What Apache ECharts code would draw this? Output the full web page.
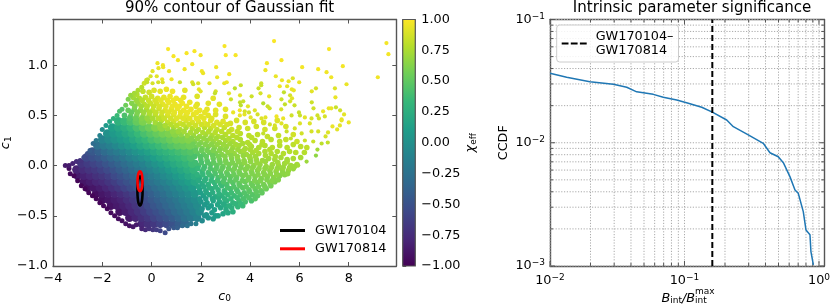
<!DOCTYPE html>
<html><head><meta charset="utf-8">
<style>html,body{margin:0;padding:0;background:#fff}#c{width:831px;height:304px}</style>
<script src="https://cdn.jsdelivr.net/npm/echarts@6/dist/echarts.min.js"></script>
</head><body><div id="c"></div>
<script>
// [c0, c1, chi_eff]
const coreSamples = [
[-.4,-.58,-.78],[-.15,-.58,-.72],[.1,-.58,-.67],[.35,-.58,-.6],[.6,-.58,-.55],[.85,-.58,-.49],[1.1,-.58,-.41],[1.35,-.57,-.33],
[-.9,-.52,-.85],[-.65,-.52,-.79],[-.4,-.52,-.72],[-.15,-.52,-.66],[.1,-.52,-.59],[.35,-.52,-.53],[.6,-.52,-.47],[.85,-.52,-.41],[1.1,-.52,-.34],[1.35,-.52,-.26],[1.6,-.52,-.2],[1.85,-.52,-.12],
[-1.3,-.46,-.9],[-1.05,-.46,-.84],[-.8,-.46,-.78],[-.55,-.46,-.71],[-.3,-.46,-.64],[-.05,-.46,-.57],[.2,-.46,-.51],[.45,-.46,-.45],[.7,-.46,-.38],[.95,-.46,-.32],[1.2,-.46,-.26],[1.45,-.46,-.19],[1.7,-.46,-.12],[1.95,-.46,-.04],
[-1.65,-.4,-.9],[-1.4,-.4,-.86],[-1.15,-.4,-.82],[-.9,-.4,-.77],[-.65,-.4,-.7],[-.4,-.4,-.62],[-.15,-.4,-.54],[.1,-.4,-.47],[.35,-.4,-.41],[.6,-.4,-.35],[.85,-.4,-.29],[1.1,-.4,-.22],[1.35,-.4,-.16],[1.6,-.4,-.1],[1.85,-.4,-.04],
[-2,-.34,-.92],[-1.75,-.34,-.88],[-1.5,-.34,-.84],[-1.25,-.34,-.8],[-1,-.34,-.74],[-.75,-.34,-.68],[-.5,-.34,-.6],[-.25,-.34,-.53],[0,-.34,-.45],[.25,-.34,-.39],[.5,-.34,-.33],[.75,-.34,-.27],[1,-.34,-.21],[1.25,-.34,-.14],[1.5,-.34,-.08],[1.75,-.34,-.02],
[-2.25,-.28,-.93],[-2,-.28,-.88],[-1.75,-.28,-.84],[-1.5,-.28,-.79],[-1.25,-.28,-.74],[-1,-.28,-.68],[-.75,-.28,-.62],[-.5,-.28,-.54],[-.25,-.28,-.47],[0,-.28,-.4],[.25,-.28,-.33],[.5,-.28,-.27],[.75,-.28,-.2],[1,-.28,-.14],[1.25,-.28,-.08],[1.5,-.28,-.02],[1.75,-.28,.05],
[-2.6,-.22,-.92],[-2.35,-.22,-.88],[-2.1,-.22,-.84],[-1.85,-.22,-.79],[-1.6,-.22,-.73],[-1.35,-.22,-.67],[-1.1,-.22,-.6],[-.85,-.22,-.54],[-.6,-.22,-.48],[-.35,-.22,-.42],[-.1,-.22,-.36],[.15,-.22,-.29],[.4,-.22,-.23],[.65,-.22,-.17],[.9,-.22,-.1],[1.15,-.22,-.04],[1.4,-.22,.02],[1.65,-.22,.08],
[-2.75,-.16,-.88],[-2.5,-.16,-.84],[-2.25,-.16,-.79],[-2,-.16,-.75],[-1.75,-.16,-.69],[-1.5,-.16,-.63],[-1.25,-.16,-.56],[-1,-.16,-.5],[-.75,-.16,-.44],[-.5,-.16,-.38],[-.25,-.16,-.31],[0,-.16,-.25],[.25,-.16,-.19],[.5,-.16,-.13],[.75,-.16,-.06],[1,-.16,0],[1.25,-.16,.06],[1.5,-.16,.12],[1.75,-.16,.18],
[-3,-.1,-.86],[-2.75,-.1,-.81],[-2.5,-.1,-.77],[-2.25,-.1,-.72],[-2,-.1,-.68],[-1.75,-.1,-.62],[-1.5,-.1,-.55],[-1.25,-.1,-.49],[-1,-.1,-.43],[-.75,-.1,-.37],[-.5,-.1,-.3],[-.25,-.1,-.24],[0,-.1,-.18],[.25,-.1,-.12],[.5,-.1,-.05],[.75,-.1,.01],[1,-.1,.07],[1.25,-.1,.13],[1.5,-.1,.19],[1.75,-.1,.24],
[-3.05,-.04,-.8],[-2.8,-.04,-.75],[-2.55,-.04,-.7],[-2.3,-.04,-.66],[-2.05,-.04,-.61],[-1.8,-.04,-.55],[-1.55,-.04,-.49],[-1.3,-.04,-.42],[-1.05,-.04,-.36],[-.8,-.04,-.3],[-.55,-.04,-.24],[-.3,-.04,-.17],[-.05,-.04,-.11],[.2,-.04,-.05],[.45,-.04,.01],[.7,-.04,.08],[.95,-.04,.14],[1.2,-.04,.19],[1.45,-.04,.25],[1.7,-.04,.31],
[-2.85,.02,-.69],[-2.6,.02,-.64],[-2.35,.02,-.59],[-2.1,.02,-.54],[-1.85,.02,-.48],[-1.6,.02,-.42],[-1.35,.02,-.36],[-1.1,.02,-.29],[-.85,.02,-.23],[-.6,.02,-.17],[-.35,.02,-.11],[-.1,.02,-.04],[.15,.02,.02],[.4,.02,.08],[.65,.02,.15],[.9,.02,.21],[1.15,.02,.26],[1.4,.02,.31],[1.65,.02,.37],
[-2.65,.08,-.56],[-2.4,.08,-.51],[-2.15,.08,-.46],[-1.9,.08,-.4],[-1.65,.08,-.33],[-1.4,.08,-.27],[-1.15,.08,-.21],[-.9,.08,-.14],[-.65,.08,-.08],[-.4,.08,-.02],[-.15,.08,.04],[.1,.08,.11],[.35,.08,.17],[.6,.08,.23],[.85,.08,.28],[1.1,.08,.32],[1.35,.08,.37],[1.6,.08,.41],
[-2.4,.14,-.45],[-2.15,.14,-.38],[-1.9,.14,-.3],[-1.65,.14,-.23],[-1.4,.14,-.17],[-1.15,.14,-.11],[-.9,.14,-.05],[-.65,.14,.02],[-.4,.14,.08],[-.15,.14,.14],[.1,.14,.2],[.35,.14,.26],[.6,.14,.31],[.85,.14,.35],[1.1,.14,.39],[1.35,.14,.43],[1.6,.14,.46],
[-2.2,.2,-.26],[-1.95,.2,-.19],[-1.7,.2,-.13],[-1.45,.2,-.06],[-1.2,.2,0],[-.95,.2,.06],[-.7,.2,.12],[-.45,.2,.19],[-.2,.2,.25],[.05,.2,.31],[.3,.2,.36],[.55,.2,.41],[.8,.2,.46],[1.05,.2,.5],[1.3,.2,.53],[1.55,.2,.56],
[-2,.26,-.1],[-1.75,.26,-.04],[-1.5,.26,.02],[-1.25,.26,.08],[-1,.26,.13],[-.75,.26,.2],[-.5,.26,.27],[-.25,.26,.33],[0,.26,.4],[.25,.26,.45],[.5,.26,.49],[.75,.26,.54],[1,.26,.58],[1.25,.26,.6],[1.5,.26,.62],
[-1.8,.32,.01],[-1.55,.32,.07],[-1.3,.32,.13],[-1.05,.32,.19],[-.8,.32,.26],[-.55,.32,.34],[-.3,.32,.41],[-.05,.32,.47],[.2,.32,.52],[.45,.32,.57],[.7,.32,.6],[.95,.32,.64],
[-1.6,.38,.12],[-1.35,.38,.18],[-1.1,.38,.24],[-.85,.38,.32],[-.6,.38,.41],[-.35,.38,.49],[-.1,.38,.55],[.15,.38,.62],[.4,.38,.67],
[-1.35,.44,.28],[-1.1,.44,.35],[-.85,.44,.42],[-.6,.44,.52],[-.35,.44,.6]
];
const edgeSamples = [
[-3.5,0,-.85],[-3.35,-.03,-.93],[-3.3,-.08,-.95],[-3.15,-.1,-.97],[-3,-.15,-.98],[-2.85,-.2,-.98],[-2.7,-.23,-.98],[-2.55,-.27,-.97],[-2.4,-.3,-.98],[-2.25,-.33,-.97],[-2.1,-.37,-.97],[-1.95,-.4,-.96],[-1.8,-.43,-.96],[-1.65,-.47,-.95],[-1.5,-.5,-.95],[-1.35,-.53,-.93],[-1.2,-.55,-.92],[-1.05,-.58,-.9],[-.9,-.6,-.9],[-.75,-.61,-.88],[-.62,-.59,-.86],[-.4,-.63,-.8],[-.25,-.64,-.76],[-.1,-.63,-.72],[.05,-.64,-.68],[.2,-.64,-.64],[.35,-.65,-.6],[.55,-.67,-.55],[.7,-.63,-.5],[.9,-.62,-.45],[1.05,-.62,-.4],[1.25,-.6,-.32],[1.45,-.6,-.26],[1.6,-.58,-.22],[1.8,-.58,-.14],
[-3.35,0,-.85],[-3.2,.02,-.8],[-3.05,.04,-.75],[-2.9,.05,-.7],[-2.75,.08,-.55],[-2.6,.12,-.5],[-2.5,.15,-.42],[-2.37,.22,-.3],[-2.25,.25,-.2],[-2.1,.3,-.1],[-2,.36,-.02],[-1.85,.4,.08],[-1.7,.44,.18],[-1.55,.47,.28],[-1.4,.5,.35],[-1.3,.54,.42],[-1.2,.56,.45],[-1.05,.6,.55],[-.95,.66,.6],[-.85,.7,.68],[-.7,.72,.72],[-.55,.75,.75],[-.4,.78,.78],[-.3,.82,.85],[-.2,.85,.85]
];
const bodySamples = [
[2.05,-.55,-.05],[2.3,-.52,.02],[2.5,-.53,.06],[2.15,-.5,0],[2.45,-.47,.08],[2.7,-.5,.12],[2.9,-.48,.16],[3.1,-.47,.2],[3.3,-.46,.25],
[2.05,-.43,.02],[2.3,-.42,.08],[2.55,-.44,.13],[2.8,-.42,.18],[3,-.4,.24],[3.25,-.42,.28],[3.5,-.41,.32],[3.7,-.4,.36],
[2,-.36,.05],[2.25,-.37,.1],[2.5,-.35,.16],[2.75,-.36,.2],[3.05,-.35,.27],[3.3,-.37,.3],[3.55,-.35,.36],[3.8,-.36,.4],[4.05,-.35,.42],
[2.1,-.3,.12],[2.35,-.29,.18],[2.6,-.31,.22],[2.85,-.3,.27],[3.1,-.29,.32],[3.35,-.3,.36],[3.6,-.29,.4],[3.85,-.3,.44],[4.1,-.29,.46],[4.3,-.3,.48],
[1.95,-.24,.14],[2.2,-.25,.2],[2.45,-.23,.25],[2.7,-.24,.3],[2.95,-.25,.35],[3.2,-.23,.41],[3.45,-.24,.44],[3.7,-.22,.48],[3.95,-.24,.51],[4.2,-.23,.53],[4.45,-.25,.54],[4.65,-.23,.55],
[2.05,-.18,.21],[2.3,-.19,.27],[2.55,-.17,.32],[2.8,-.18,.37],[3.05,-.19,.42],[3.3,-.17,.46],[3.55,-.18,.5],[3.8,-.16,.53],[4.05,-.18,.55],[4.3,-.17,.57],[4.55,-.19,.58],[4.8,-.17,.6],[5,-.16,.6],
[1.95,-.12,.25],[2.2,-.13,.3],[2.45,-.11,.36],[2.7,-.12,.42],[2.95,-.13,.46],[3.2,-.11,.5],[3.45,-.12,.53],[3.7,-.1,.57],[3.95,-.12,.59],[4.2,-.11,.6],[4.45,-.13,.61],[4.7,-.11,.62],[4.95,-.12,.63],[5.2,-.1,.63],[5.4,-.09,.64],
[2.05,-.06,.34],[2.3,-.07,.39],[2.55,-.05,.44],[2.8,-.06,.49],[3.05,-.07,.53],[3.3,-.05,.56],[3.55,-.06,.58],[3.8,-.04,.61],[4.05,-.06,.62],[4.3,-.05,.63],[4.55,-.07,.64],[4.8,-.05,.65],[5.05,-.06,.66],[5.3,-.04,.67],[5.55,-.05,.68],[5.75,-.03,.68],
[1.9,0,.38],[2.15,-.01,.42],[2.4,.01,.46],[2.65,0,.5],[2.9,-.01,.54],[3.15,.01,.57],[3.4,0,.59],[3.65,.01,.62],[3.9,-.01,.64],[4.15,0,.66],[4.4,.01,.67],[4.65,-.01,.68],[4.9,.01,.7],[5.15,0,.7],[5.4,.02,.71],[5.65,0,.71],[5.9,.01,.72],
[2,.06,.45],[2.25,.05,.49],[2.5,.07,.53],[2.75,.06,.57],[3,.05,.6],[3.25,.07,.62],[3.5,.06,.64],[3.75,.05,.66],[4,.07,.68],[4.25,.06,.69],[4.5,.05,.7],[4.75,.07,.71],[5,.06,.72],[5.25,.08,.73],[5.5,.06,.73],[5.75,.07,.74],[6.05,.08,.74],
[1.85,.12,.48],[2.1,.11,.51],[2.35,.13,.55],[2.6,.12,.59],[2.85,.11,.63],[3.1,.13,.66],[3.35,.12,.68],[3.6,.14,.7],[3.85,.11,.71],[4.1,.13,.73],[4.35,.12,.74],[4.6,.14,.75],[4.85,.12,.76],[5.1,.14,.76],[5.35,.12,.77],[5.6,.14,.77],[5.85,.13,.78],[6.2,.13,.78],
[1.8,.18,.55],[2.05,.17,.57],[2.3,.19,.6],[2.55,.18,.63],[2.8,.17,.66],[3.05,.19,.68],[3.3,.18,.7],[3.55,.2,.72],[3.8,.17,.74],[4.05,.19,.75],[4.35,.18,.76],[4.6,.2,.77],[4.9,.18,.78],[5.2,.2,.78],[5.5,.18,.79],[5.75,.21,.8],[6.05,.19,.8],[6.3,.18,.81],
[1.75,.24,.6],[2,.23,.63],[2.25,.25,.65],[2.5,.24,.67],[2.75,.23,.7],[3,.25,.72],[3.3,.24,.74],[3.6,.26,.76],[3.9,.23,.77],[4.2,.25,.78],[4.5,.24,.79],[4.85,.26,.8],[5.2,.24,.8],[5.45,.26,.82],[5.9,.24,.84],
[1.2,.31,.66],[1.45,.3,.68],[1.7,.3,.69],[1.95,.29,.7],[2.2,.31,.72],[2.45,.3,.74],[2.7,.29,.76],[3,.31,.78],[3.3,.3,.79],[3.6,.32,.8],[3.95,.3,.8],[4.3,.31,.81],[4.7,.29,.82],[5.15,.3,.82],[5.75,.31,.86],
[.65,.37,.7],[.9,.38,.73],[1.15,.36,.75],[1.4,.38,.76],[1.65,.37,.78],[1.9,.36,.78],[2.15,.38,.8],[2.4,.37,.82],[2.65,.36,.82],[2.95,.38,.84],[3.25,.36,.85],[3.55,.38,.85],[3.9,.37,.85],[4.25,.39,.86],[4.6,.36,.86],[5,.37,.86],[5.45,.39,.88],
[-.1,.44,.66],[.15,.43,.72],[.4,.45,.78],[.65,.43,.82],[.9,.44,.85],[1.15,.42,.86],[1.4,.45,.88],[1.65,.43,.88],[1.9,.44,.9],[2.15,.42,.9],[2.4,.45,.9],[2.65,.43,.9],[2.9,.44,.9],[3.2,.42,.88],[3.45,.45,.88],[3.8,.43,.88],[4.15,.44,.88],[4.55,.43,.88],[5.1,.45,.9],
[-1.1,.5,.42],[-.85,.49,.5],[-.6,.5,.6],[-.35,.49,.66],[-.1,.5,.74],[.15,.51,.8],[.4,.49,.84],[.65,.5,.88],[.9,.51,.9],[1.15,.49,.92],[1.4,.5,.92],[1.7,.51,.93],[2,.49,.92],[2.3,.5,.92],[2.6,.51,.9],[3,.49,.9],
[-.95,.55,.52],[-.7,.56,.58],[-.45,.55,.68],[-.2,.56,.74],[.05,.55,.82],[.3,.57,.86],[.55,.55,.9],[.8,.56,.92],[1.05,.57,.94],[1.3,.55,.94],[1.6,.56,.95],[1.95,.55,.94],[2.25,.56,.93],[2.6,.55,.92],[3,.56,.92],
[-.8,.62,.62],[-.55,.62,.7],[-.3,.61,.78],[-.05,.62,.84],[.2,.62,.88],[.45,.61,.92],[.7,.63,.94],[.95,.61,.95],[1.25,.62,.96],[1.55,.63,.94],[1.85,.61,.92],[2.3,.62,.92],[2.75,.61,.92],
[-.75,.68,.72],[-.5,.67,.76],[-.25,.68,.82],[0,.69,.86],[.25,.67,.9],[.5,.68,.93],[.75,.69,.95],[1,.67,.95],[1.3,.68,.93],[1.85,.69,.9],[2.5,.67,.92],
[-.6,.71,.76],[-.35,.74,.82],[-.1,.73,.86],[.1,.75,.9],[.35,.74,.92],[.6,.76,.95],[.85,.74,.96],[1.35,.75,.92]
];
const fillSamples = [
[2.22,-.49,.02],[2.6,-.5,.1],[3.02,-.44,.21],
[2.15,-.39,.06],[2.42,-.4,.11],[2.68,-.39,.17],[2.92,-.38,.21],[3.15,-.4,.26],[3.4,-.38,.31],[3.62,-.38,.35],
[1.95,-.33,.05],[2.2,-.33,.12],[2.47,-.33,.18],[2.72,-.32,.23],[2.96,-.33,.28],[3.22,-.33,.33],[3.47,-.32,.37],[3.72,-.33,.42],[3.95,-.32,.45],[4.2,-.33,.47],
[1.98,-.27,.12],[2.22,-.27,.18],[2.48,-.27,.23],[2.74,-.28,.27],[2.98,-.27,.32],[3.24,-.27,.37],[3.5,-.26,.41],[3.76,-.27,.45],[3.98,-.26,.48],[4.25,-.26,.5],[4.48,-.27,.51],
[1.9,-.21,.17],[2.12,-.21,.21],[2.35,-.22,.26],[2.6,-.21,.31],[2.85,-.2,.36],[3.08,-.22,.41],[3.34,-.21,.45],[3.58,-.2,.49],[3.84,-.21,.51],[4.1,-.2,.54],[4.34,-.21,.55],[4.6,-.21,.57],[4.84,-.2,.58],
[1.9,-.15,.22],[2.15,-.15,.27],[2.42,-.15,.33],[2.68,-.15,.39],[2.92,-.16,.44],[3.18,-.15,.48],[3.42,-.14,.51],[3.68,-.15,.54],[3.92,-.14,.57],[4.18,-.15,.59],[4.42,-.15,.6],[4.68,-.14,.61],[4.9,-.15,.62],[5.14,-.14,.62],
[1.85,-.09,.28],[2.08,-.09,.33],[2.34,-.09,.38],[2.58,-.08,.43],[2.84,-.1,.47],[3.08,-.09,.5],[3.34,-.09,.54],[3.58,-.08,.57],[3.82,-.09,.59],[4.08,-.08,.61],[4.32,-.09,.62],[4.58,-.09,.63],[4.82,-.08,.64],[5.08,-.09,.65],[5.32,-.07,.65],[5.52,-.08,.66],
[1.88,-.03,.34],[2.12,-.03,.39],[2.38,-.03,.44],[2.62,-.03,.48],[2.86,-.03,.52],[3.12,-.03,.55],[3.36,-.03,.58],[3.62,-.02,.6],[3.86,-.03,.62],[4.1,-.02,.64],[4.36,-.03,.65],[4.6,-.03,.66],[4.86,-.02,.68],[5.1,-.03,.68],[5.34,-.02,.69],[5.6,-.02,.7],[5.8,-.01,.7],
[1.78,.03,.38],[2.02,.03,.42],[2.28,.03,.46],[2.52,.03,.5],[2.78,.03,.54],[3.02,.03,.58],[3.28,.03,.6],[3.52,.04,.62],[3.78,.03,.65],[4.02,.04,.66],[4.28,.03,.68],[4.62,.04,.69],[5.12,.03,.71],[5.5,.04,.72],
[1.75,.09,.42],[1.98,.09,.46],[2.22,.09,.5],[2.48,.1,.54],[2.72,.09,.58],[2.98,.09,.62],[3.22,.1,.64],[3.48,.09,.66],[3.72,.1,.68],[3.98,.09,.7],[4.22,.09,.71],[4.62,.1,.73],[5.02,.09,.74],
[1.78,.15,.5],[2.02,.15,.54],[2.25,.15,.57],[2.5,.15,.6],[2.75,.15,.63],[2.98,.16,.66],[3.24,.15,.68],[3.5,.16,.7],[3.74,.15,.72],[4,.16,.74],[4.24,.15,.75],[4.8,.16,.77],
[1.68,.21,.56],[1.92,.21,.59],[2.18,.21,.62],[2.42,.21,.64],[2.66,.21,.67],[2.92,.21,.69],[3.18,.22,.71],[3.42,.21,.73],[3.7,.22,.74],[3.98,.21,.76],[4.48,.21,.78],
[1.62,.27,.63],[1.86,.27,.66],[2.12,.27,.68],[2.38,.27,.7],[2.62,.27,.72],[2.88,.28,.74],[3.14,.27,.76],[3.46,.28,.78],[4.06,.28,.8],
[.85,.34,.66],[1.08,.34,.7],[1.32,.34,.72],[1.58,.33,.73],[1.82,.34,.74],[2.08,.33,.75],[2.32,.34,.77],[2.58,.33,.78],[2.84,.34,.8],[3.14,.34,.81],[3.48,.34,.82],
[.32,.41,.68],[.55,.4,.74],[.78,.41,.78],[1.02,.4,.8],[1.28,.41,.82],[1.52,.41,.84],[1.78,.4,.85],[2.02,.41,.86],[2.28,.41,.87],[2.52,.4,.87],[2.78,.41,.88],[3.06,.41,.88],
[-.9,.47,.45],[-.65,.47,.54],[-.4,.47,.62],[-.18,.47,.68],[.05,.47,.74],[.28,.47,.8],[.52,.47,.84],[.78,.47,.87],[1.02,.47,.9],[1.28,.47,.91],[1.55,.47,.91],[1.82,.47,.92],[2.12,.47,.92],[2.44,.47,.91],
[-.82,.53,.52],[-.58,.53,.6],[-.32,.53,.7],[-.08,.53,.76],[.18,.53,.82],[.42,.53,.86],[.68,.53,.9],[.92,.53,.92],[1.18,.53,.93],[1.46,.53,.94],[1.82,.53,.94],[2.16,.53,.93],
[-.68,.59,.62],[-.42,.59,.72],[-.18,.59,.78],[.08,.59,.84],[.32,.59,.88],[.58,.59,.92],[.84,.59,.94],[1.12,.59,.95],[1.42,.59,.95],[1.8,.59,.93],
[-.62,.65,.7],[-.38,.65,.78],[-.12,.65,.84],[.14,.65,.88],[.38,.65,.92],[.64,.65,.94],[.88,.65,.95],[1.18,.65,.95]
];
const sparseSamples = [
[.67,1.16,.98],[.89,1.09,.98],[1.07,1.05,.97],[1.42,1.12,.98],[1.74,1.14,.98],[1.99,1.1,.97],[1.65,1.01,.97],[.24,1.02,.95],[.46,1,.96],[.47,.98,.95],[.28,.97,.94],[.71,.94,.96],[1.34,.96,.96],[2.04,.94,.97],[2.09,.92,.95],[2.62,.98,.96],[2.96,1.19,.98],[3.01,1.1,.98],[2.66,.88,.94],[3.15,.91,.97],[.04,.94,.92],[-.04,.89,.88],[.21,.89,.92],[.81,.86,.96],[1.15,.83,.84],[1.65,.83,.9],[1.69,.81,.86],[1.89,.82,.9],[2.35,.82,.92],[2.95,.82,.94],[3.05,.83,.96],[-.15,.86,.84],[-.18,.83,.82],[.43,.86,.94],[.45,.83,.9],[.27,.83,.88],[.04,.82,.88],[1.92,.76,.94],[1.99,.74,.92],[2.6,.74,.88],[2.57,.72,.82],[3.14,.72,.92],
[4.97,1.24,.99],[7.2,1.16,.98],[9.53,1.22,.97],[9.61,1.11,.97],[3.41,1.1,.98],[5.27,1.05,.98],[4.68,1.02,.97],[4.62,.95,.95],[6.11,.98,.97],[6.76,.96,.97],[7.76,.99,.97],[7.1,.93,.96],[7.29,.88,.96],[9.18,.88,.96],[7.91,.81,.94],[5.04,.89,.94],[5.29,.85,.95],[5.73,.87,.9],[5.56,.84,.94],[5.99,.83,.95],[5.2,.79,.95],[5.5,.79,.93],[4.45,.82,.86],[4.45,.8,.84],[3.62,.8,.84],[3.38,.77,.8],[4.34,.77,.85],[5.69,.76,.94],[5.77,.75,.94],[6.67,.77,.88],[6.5,.74,.92],[7.44,.77,.9],[5.37,.73,.82],[4.42,.72,.88],[5.62,.7,.88],[3.59,.7,.92],[4.06,.69,.85],[4.77,.69,.94],[7.46,.68,.94],[5.7,.67,.92],[5.27,.66,.85],[3.22,.66,.85],[6.5,.63,.85],[3.59,.63,.82],[3.72,.64,.84],[5.62,.64,.88],[4.53,.62,.78],[5.41,.61,.82],[4.71,.59,.84],[4.79,.57,.86],[5.8,.6,.84],[3.62,.6,.8],[6.57,.57,.86],[7.19,.57,.94],[7.29,.57,.94],[7.48,.58,.84],[5.26,.56,.88],[3.91,.59,.92],[4.19,.55,.9],[3.58,.55,.96],[3.78,.54,.88],[3.95,.53,.86],[6.96,.54,.94],[7.65,.55,.86],[3.31,.53,.94],[5.98,.53,.84],[7.81,.51,.92],[4.3,.51,.88],[3.58,.5,.94],[3.77,.51,.92],[5.07,.49,.96],[5.68,.5,.86],[6.02,.5,.84],[6.73,.5,.86],[7.03,.49,.88],[4.02,.48,.92],[5.34,.47,.94],[4.46,.47,.9],[4.62,.48,.92],[6.22,.48,.92],[6.49,.47,.88],[6.79,.47,.86],[7.71,.46,.92],
[8,.43,.94],[7.71,.45,.94],[7.64,.4,.92],[7.53,.36,.92],[7.34,.39,.94],[7.16,.33,.9],[7.06,.29,.88],[7.15,.23,.82],[6.9,.22,.8],[6.76,.34,.88],[6.73,.16,.72],[6.67,.1,.66],[6.56,.24,.84],[6.49,.34,.88],[6.42,.42,.9],[6.02,.42,.9],[6.09,.32,.86],[5.81,.37,.88],[5.65,.27,.82],[6.29,.04,.7],[5.95,0,.72],[6.22,.25,.84],[5.48,.34,.84],[5.27,.42,.9],[5,.4,.88],[4.8,.41,.86],[4.53,.32,.82]
];
const contourA = [[-.365,-.253],[-.379,-.18],[-.417,-.127],[-.47,-.107],[-.523,-.127],[-.561,-.18],[-.575,-.253],[-.561,-.326],[-.523,-.379],[-.47,-.399],[-.417,-.379],[-.379,-.326],[-.365,-.253]];
const contourB = [[-.37,-.156],[-.383,-.106],[-.42,-.069],[-.47,-.056],[-.52,-.069],[-.557,-.106],[-.57,-.156],[-.557,-.206],[-.52,-.243],[-.47,-.256],[-.42,-.243],[-.383,-.206],[-.37,-.156]];
const bRatio = [.01,.0133,.0198,.0296,.0372,.0441,.0586,.0695,.0875,.1067,.1343,.161,.206,.2307,.298,.385,.432,.498,.543,.608,.663,.701,.764,.8,.857,.871,.908];
const ccdf = [.0366,.034,.0313,.0298,.0282,.0259,.0247,.0234,.0222,.0209,.0194,.0177,.0153,.0135,.0116,.0099,.0083,.0077,.00689,.00531,.00414,.00389,.00276,.00196,.00179,.00131,.00102];
const marker = 0.161;
const xGridVals = [.01,.02,.03,.04,.05,.06,.07,.08,.09,.1,.2,.3,.4,.5,.6,.7,.8,.9,1];
const yGridVals = [.001,.002,.003,.004,.005,.006,.007,.008,.009,.01,.02,.03,.04,.05,.06,.07,.08,.09,.1];
const xMajor = [.01,.1,1], yMajor = [.001,.01,.1];
const cbTicks = [-1,1];
const viridis = ['#440154','#482878','#3e4989','#31688e','#26828e','#1f9e89','#35b779','#6ece58','#b5de2b','#fde725'];

const FONT = 'DejaVu Sans', INK = '#000', SPINE = '#555', FS = 12.8, FSS = 9;
const minus = s => String(s).replace('-', '\u2212');
const axisBase = {
  axisLine:{show:true,onZero:false,lineStyle:{color:SPINE,width:1.4}},
  axisTick:{show:true,inside:true,length:4,lineStyle:{color:SPINE,width:1}},
  splitLine:{show:false}
};
const noLabel = {show:false};
const lab = extra => Object.assign({color:INK,fontFamily:FONT,fontSize:FS,margin:5},extra);
const xLim = [-4,9.93], yLim = [-1,1.455];
const xLog = [.01,1.095], yLog = [.001,.1];
const G = {top:19.5,height:246.5,outerBoundsMode:'none'};
const pow10 = v => {
  const e = Math.log10(v);
  if (Math.abs(e-Math.round(e))>1e-6) return '';
  return '{b|10}{s|'+minus(Math.round(e))+'}';
};
const powRich = {b:{fontFamily:FONT,fontSize:FS,color:INK},s:{fontFamily:FONT,fontSize:FSS,color:INK,verticalAlign:'top',padding:[0,0,6,0]}};
const nameRich = {
  i:{fontFamily:FONT,fontStyle:'italic',fontSize:FS,color:INK},
  sub:{fontFamily:FONT,fontSize:FSS,color:INK,verticalAlign:'bottom',padding:[5,0,0,0]}
};
const scatter = (data,size) => ({type:'scatter',xAxisIndex:0,yAxisIndex:0,data,symbolSize:size,itemStyle:{opacity:1},silent:true,z:2});
const contour = (name,data,color) => ({type:'line',name,xAxisIndex:0,yAxisIndex:0,data,smooth:true,showSymbol:false,symbol:'none',lineStyle:{color,width:2.6},itemStyle:{color},silent:true,z:5});

function logGrid(vertical){
  return function(params,api){
    const v = api.value(0);
    const a = vertical ? api.coord([v,yLog[0]]) : api.coord([xLog[0],v]);
    const b = vertical ? api.coord([v,yLog[1]]) : api.coord([xLog[1],v]);
    const major = (vertical?xMajor:yMajor).includes(v);
    const t = major?5:3;
    const d = vertical?[0,t]:[t,0];
    const tick=(p,s)=>({type:'line',shape:{x1:p[0],y1:p[1],x2:p[0]+s*d[0],y2:p[1]+s*d[1]},style:{stroke:SPINE,lineWidth:1}});
    return {type:'group',children:[
      {type:'line',shape:{x1:a[0],y1:a[1],x2:b[0],y2:b[1]},style:{stroke:'#aaa',lineWidth:1,lineDash:[1.2,1.6]}},
      tick(a,vertical?-1:1),tick(b,vertical?1:-1)
    ]};
  };
}

const option = {
  animation:false, backgroundColor:'#fff',
  textStyle:{fontFamily:FONT},
  title:[
    {text:'90% contour of Gaussian fit',left:224.6,top:-4,textAlign:'center',textStyle:{fontFamily:FONT,fontWeight:'normal',fontSize:15.05,color:INK}},
    {text:'Intrinsic parameter significance',left:687,top:-4,textAlign:'center',textStyle:{fontFamily:FONT,fontWeight:'normal',fontSize:15.05,color:INK}}
  ],
  grid:[
    Object.assign({left:53,width:343.3},G),
    Object.assign({left:402.7,width:12.6},G),
    Object.assign({left:550,width:274.3},G)
  ],
  xAxis:[
    Object.assign({},axisBase,{type:'value',gridIndex:0,min:xLim[0],max:xLim[1],interval:2,position:'bottom',
      axisLabel:lab({margin:6,showMinLabel:true,showMaxLabel:true,formatter:v=>Number.isInteger(v/2)?minus(v):''}),
      name:'{i|c}{sub|0}',nameLocation:'middle',nameGap:22,nameTextStyle:{rich:nameRich}}),
    Object.assign({},axisBase,{type:'value',gridIndex:0,min:xLim[0],max:xLim[1],interval:2,position:'top',axisLabel:noLabel}),
    {type:'value',gridIndex:1,min:0,max:1,show:false},
    {type:'log',logBase:10,gridIndex:2,min:xLog[0],max:xLog[1],position:'bottom',
      axisLine:axisBase.axisLine,axisTick:{show:false},splitLine:{show:false},minorTick:{show:false},minorSplitLine:{show:false},
      axisLabel:lab({formatter:pow10,rich:powRich,margin:7,showMinLabel:true,showMaxLabel:false}),
      name:'{i|B}{sub|int}{i|/B}{sub|int}',nameLocation:'middle',nameGap:24,nameTextStyle:{rich:nameRich,padding:[0,6,0,0]}},
    {type:'log',logBase:10,gridIndex:2,min:xLog[0],max:xLog[1],position:'top',axisLine:axisBase.axisLine,axisTick:{show:false},axisLabel:noLabel,splitLine:{show:false}}
  ],
  yAxis:[
    Object.assign({},axisBase,{type:'value',gridIndex:0,min:yLim[0],max:yLim[1],interval:.5,position:'left',
      axisLabel:lab({showMaxLabel:true,formatter:v=>Number.isInteger(v*2)?minus(v.toFixed(1)):''}),
      name:'{i|c}{sub|1}',nameLocation:'middle',nameGap:38,nameRotate:90,nameTextStyle:{rich:nameRich}}),
    Object.assign({},axisBase,{type:'value',gridIndex:0,min:yLim[0],max:yLim[1],interval:.5,position:'right',axisLabel:noLabel}),
    {type:'value',gridIndex:1,min:cbTicks[0],max:cbTicks[1],interval:.25,position:'right',
      axisLine:{show:false},axisTick:{show:true,length:3.5,lineStyle:{color:SPINE,width:1}},splitLine:{show:false},
      axisLabel:lab({margin:6,formatter:v=>minus(v.toFixed(2))}),
      name:'{i|\u03c7}{sub|eff}',nameLocation:'middle',nameGap:47,nameRotate:90,nameTextStyle:{rich:nameRich}},
    {type:'log',logBase:10,gridIndex:2,min:yLog[0],max:yLog[1],position:'left',
      axisLine:axisBase.axisLine,axisTick:{show:false},splitLine:{show:false},
      axisLabel:lab({formatter:pow10,rich:powRich,margin:5}),
      name:'CCDF',nameLocation:'middle',nameGap:40,nameRotate:90,nameTextStyle:{fontFamily:FONT,fontSize:FS,color:INK}},
    {type:'log',logBase:10,gridIndex:2,min:yLog[0],max:yLog[1],position:'right',axisLine:axisBase.axisLine,axisTick:{show:false},axisLabel:noLabel,splitLine:{show:false}}
  ],
  visualMap:{type:'continuous',show:false,seriesIndex:[0,1,2,3,4],dimension:2,min:-1,max:1,inRange:{color:viridis}},
  legend:[
    {data:[{name:'GW170104',icon:'rect'},{name:'GW170814',icon:'rect'}],left:275,top:219,orient:'vertical',align:'left',itemWidth:25,itemHeight:3,itemGap:5.3,
     textStyle:{fontFamily:FONT,fontSize:FS,color:INK,padding:[0,0,0,5]},selectedMode:false},
    {data:[{name:'GW170104\u2013\nGW170814',icon:'path://M0,0H6.8V2H0Z M9.1,0H15.9V2H9.1Z M18.2,0H25V2H18.2Z'}],left:556.7,top:25,orient:'vertical',align:'left',itemWidth:25,itemHeight:2,padding:[4.5,5,4.5,5],
     backgroundColor:'rgba(255,255,255,0.85)',borderColor:'#ccc',borderWidth:1,borderRadius:3,
     textStyle:{fontFamily:FONT,fontSize:FS,color:INK,lineHeight:14,padding:[0,0,0,4]},selectedMode:false}
  ],
  graphic:[{type:'text',left:695,top:287,style:{text:'max',fontFamily:FONT,fontSize:FSS,fill:INK}}],
  series:[
    scatter(coreSamples,8.6),
    scatter(bodySamples,5.6),
    scatter(fillSamples,5.6),
    scatter(edgeSamples,5),
    scatter(sparseSamples,4.2),
    contour('GW170104',contourA,'#000'),
    contour('GW170814',contourB,'#ff0000'),
    {type:'custom',xAxisIndex:2,yAxisIndex:2,coordinateSystem:'cartesian2d',clip:false,silent:true,z:3,
     data:[[-1,1]],encode:{x:[],y:[0,1]},
     renderItem:(p,api)=>{
       const lo = api.coord([0,api.value(0)]), hi = api.coord([1,api.value(1)]);
       const stops = viridis.map((c,i)=>({offset:i/(viridis.length-1),color:c}));
       return {type:'rect',shape:{x:lo[0],y:hi[1],width:hi[0]-lo[0],height:lo[1]-hi[1]},
         style:{stroke:SPINE,lineWidth:1.2,fill:new echarts.graphic.LinearGradient(0,1,0,0,stops)}};
     }},
    {type:'custom',xAxisIndex:3,yAxisIndex:3,coordinateSystem:'cartesian2d',silent:true,clip:false,z:1,
     data:xGridVals.map(v=>[v,yLog[0]]),renderItem:logGrid(true)},
    {type:'custom',xAxisIndex:3,yAxisIndex:3,coordinateSystem:'cartesian2d',silent:true,clip:false,z:1,
     data:yGridVals.map(v=>[xLog[0],v]),encode:{x:0,y:1},
     renderItem:(p,api)=>logGrid(false)(p,{value:()=>api.value(1),coord:api.coord})},
    {type:'line',xAxisIndex:3,yAxisIndex:3,data:bRatio.map((b,i)=>[b,ccdf[i]]),showSymbol:false,symbol:'none',
     lineStyle:{color:'#1f77b4',width:1.5},silent:true,z:4},
    {type:'line',name:'GW170104\u2013\nGW170814',xAxisIndex:3,yAxisIndex:3,data:[[marker,yLog[0]],[marker,yLog[1]]],showSymbol:false,symbol:'none',
     lineStyle:{color:'#000',width:2,type:[6,3]},itemStyle:{color:'#000'},silent:true,z:5}
  ]
};
const chart = echarts.init(document.getElementById('c'),null,{renderer:'canvas'});
chart.setOption(option);
</script></body></html>
